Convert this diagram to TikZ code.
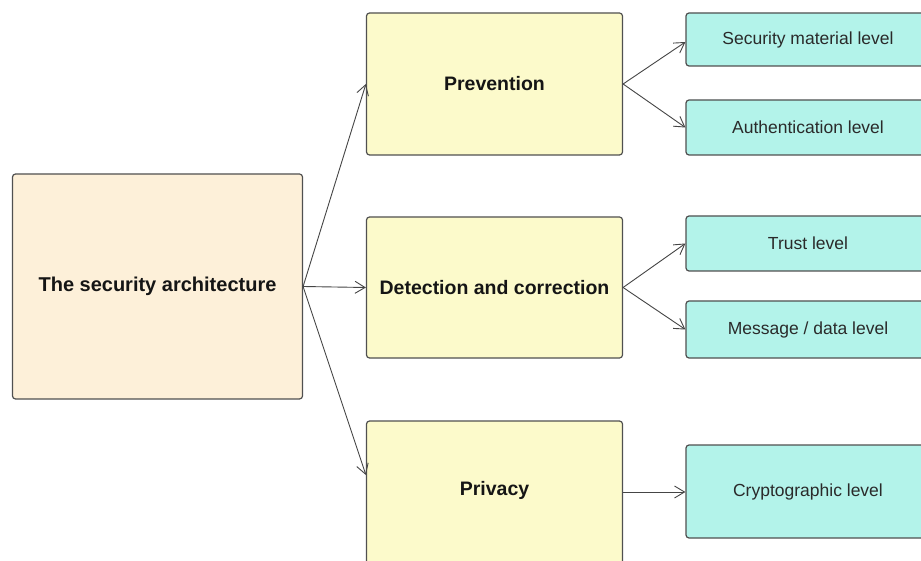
\documentclass[tikz,border=0pt]{standalone}
\usepackage{fontspec}
\setmainfont{Liberation Sans}
\usetikzlibrary{arrows.meta,positioning}

\definecolor{peach}{HTML}{FDF0D9}
\definecolor{paleyellow}{HTML}{FCFACB}
\definecolor{aqua}{HTML}{B3F3EA}
\definecolor{edge}{HTML}{505050}
\definecolor{wire}{HTML}{454545}
\definecolor{ink}{HTML}{151515}
\definecolor{softink}{HTML}{2A2A2A}

\tikzset{
  box/.style={draw=edge, line width=1.2pt, rounded corners=3pt, inner sep=0pt,
              anchor=center},
  rootbox/.style={box, fill=peach, font=\fontsize{20}{24}\selectfont\bfseries,
                  text=ink},
  groupbox/.style={box, fill=paleyellow, font=\fontsize{19.5}{23}\selectfont\bfseries,
                   text=ink, minimum width=256pt},
  levelbox/.style={box, fill=aqua, font=\fontsize{17.5}{21}\selectfont,
                   text=softink, minimum width=244pt},
  link/.style={draw=wire, line width=0.9pt,
               -{Straight Barb[length=10pt,width=12pt,line width=0.9pt]}}
}

\begin{document}
\begin{tikzpicture}[x=1pt,y=-1pt]
  \clip (0,0) rectangle (921,561);
  \fill[white] (0,0) rectangle (921,561);

  % root of the hierarchy
  \node[rootbox, minimum width=290pt, minimum height=225pt] (arch) at (157.5,286.5)
    {The security architecture};

  % three protection groups
  \node[groupbox, minimum height=142pt] (prev) at (494.5,84) {Prevention};
  \node[groupbox, minimum height=141pt] (det) at (494.5,287.5) {Detection and correction};
  \node[groupbox, minimum height=146pt] (priv) at (494.5,494) {};
  \node[font=\fontsize{19.5}{23}\selectfont\bfseries, text=ink] (privlabel) at (494.5,490) {Privacy};

  % levels, running past the right edge
  \node[levelbox, minimum height=53pt] (sec) at (808,39.5) {Security material level};
  \node[levelbox, minimum height=55pt] (auth) at (808,127.5) {Authentication level};
  \node[levelbox, minimum height=55pt] (trust) at (808,243.5) {Trust level};
  \node[levelbox, minimum height=57pt] (msg) at (808,329.5) {Message / data level};
  \node[levelbox, minimum height=93pt] (crypt) at (808,491.5) {Cryptographic level};

  % yshift is in page units, so positive moves up
  \coordinate (privin) at ([yshift=19pt]priv.west);
  \coordinate (secin) at ([yshift=-2.5pt]sec.west);
  \coordinate (privout) at ([yshift=2pt]priv.east);

  % connectors
  \draw[link] (arch.east) -- (prev.west);
  \draw[link] (arch.east) -- (det.west);
  \draw[link] (arch.east) -- (privin);

  \draw[link] (prev.east) -- (secin);
  \draw[link] (prev.east) -- (auth.west);
  \draw[link] (det.east) -- (trust.west);
  \draw[link] (det.east) -- (msg.west);
  \draw[link] (privout) -- (privout -| crypt.west);
\end{tikzpicture}
\end{document}
